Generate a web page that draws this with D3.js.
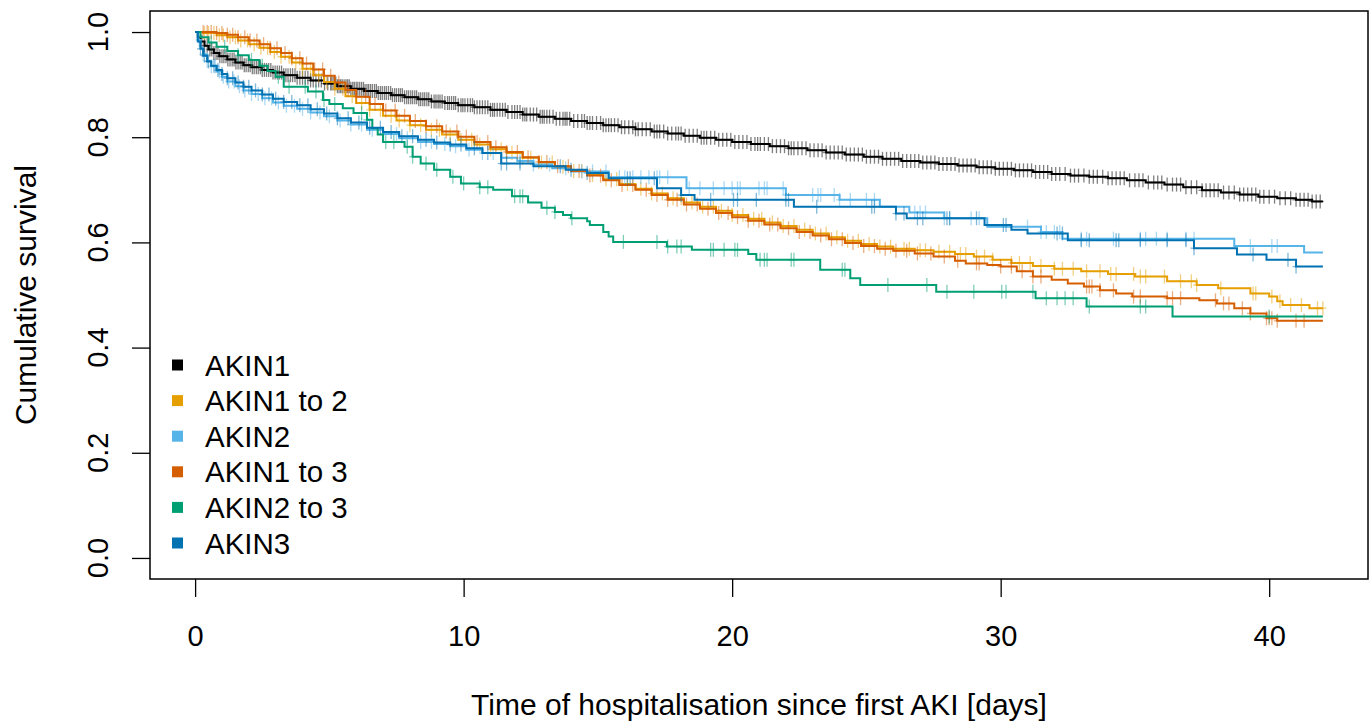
<!DOCTYPE html>
<html><head><meta charset="utf-8">
<script src="https://cdn.jsdelivr.net/npm/d3@7"></script>
<style>body{margin:0;background:#fff}svg{display:block}text{font-family:"Liberation Sans",Arial,Helvetica,sans-serif;fill:#000}</style>
</head><body><svg id="c" width="1372" height="723"></svg>
<script>
const categories = ["AKIN1","AKIN1 to 2","AKIN2","AKIN1 to 3","AKIN2 to 3","AKIN3"];
const colors = ["#000000","#E69F00","#56B4E9","#D55E00","#009E73","#0072B2"];
const followUp = 42;
const xTicks = [0,10,20,30,40];
const yTicks = [0,0.2,0.4,0.6,0.8,1.0];
const yTickLabels = ["0.0","0.2","0.4","0.6","0.8","1.0"];
const xTitle = "Time of hospitalisation since first AKI [days]";
const yTitle = "Cumulative survival";

const akin1T = [0,0.1,0.2,0.35,0.5,0.7,0.9,1.2,1.5,1.8,2.1,2.5,2.9,3.3,3.8,4.3,4.8,5.3,5.8,6.3,6.8,7.3,7.8,8.3,8.8,9.3,9.8,10.4,11.0,11.6,12.2,12.8,13.4,14.0,14.6,15.2,15.8,16.4,17.0,17.6,18.2,18.8,19.4,20.0,20.7,21.4,22.1,22.8,23.5,24.2,24.9,25.6,26.3,27.0,27.7,28.4,29.1,29.8,30.5,31.2,31.9,32.6,33.3,34.0,34.7,35.4,36.1,36.8,37.5,38.2,38.9,39.6,40.3,41.0,41.6];
const akin1S = [1,0.99,0.982,0.974,0.967,0.96,0.954,0.948,0.942,0.937,0.933,0.928,0.923,0.918,0.913,0.908,0.902,0.897,0.892,0.888,0.884,0.88,0.876,0.872,0.868,0.865,0.861,0.857,0.852,0.848,0.843,0.839,0.835,0.831,0.827,0.823,0.819,0.815,0.811,0.807,0.803,0.799,0.795,0.791,0.787,0.783,0.779,0.775,0.771,0.767,0.763,0.759,0.755,0.752,0.749,0.746,0.743,0.74,0.737,0.734,0.73,0.727,0.725,0.722,0.718,0.714,0.71,0.705,0.699,0.695,0.691,0.687,0.684,0.681,0.678];
const akin1C = [0.25,0.35,0.45,0.55,0.62,0.7,0.78,0.85,0.92,1.0,1.07,1.15,1.22,1.3,1.38,1.45,1.52,1.6,1.68,1.75,1.83,1.9,1.98,2.05,2.13,2.2,2.28,2.35,2.43,2.5,2.58,2.66,2.74,2.82,2.9,2.98,3.06,3.14,3.22,3.3,3.38,3.46,3.55,3.63,3.72,3.8,3.9,4.0,4.1,4.2,4.3,4.4,4.5,4.6,4.7,4.82,4.94,5.05,5.17,5.3,5.42,5.55,5.68,5.8,5.93,6.06,6.2,6.33,6.46,6.6,6.75,6.9,7.05,7.2,7.35,7.5,7.65,7.8,7.95,8.1,8.25,8.4,8.55,8.7,8.9,9.05,9.2,9.4,9.55,9.7,9.9,10.05,10.25,10.4,10.6,10.8,11.0,11.15,11.35,11.55,11.8,12.0,12.2,12.35,12.6,12.85,13.0,13.2,13.45,13.7,13.85,14.1,14.4,14.6,14.8,15.1,15.3,15.5,15.75,16.0,16.3,16.5,16.8,17.1,17.3,17.6,17.9,18.1,18.4,18.7,18.95,19.2,19.5,19.8,20.1,20.4,20.7,20.95,21.2,21.5,21.8,22.1,22.3,22.6,22.9,23.2,23.5,23.8,24.1,24.4,24.7,25.0,25.3,25.6,25.9,26.2,26.5,26.8,27.1,27.4,27.7,28.0,28.3,28.6,28.9,29.2,29.5,29.8,30.1,30.4,30.7,31.0,31.3,31.6,31.9,32.2,32.6,32.9,33.3,33.6,34.0,34.3,34.6,35.0,35.3,35.7,36.0,36.4,36.7,37.1,37.5,37.8,38.1,38.5,38.9,39.2,39.5,39.8,40.2,40.6,41.0,41.3,41.6,41.9,
  5.1,5.24,5.36,5.48,5.62,5.74,5.87,6.0,6.13,6.27,6.4,6.53,6.68,6.82,6.97,7.12,7.28,7.43,7.58,7.72,7.88,8.03,8.18,8.33,8.48,8.63,8.8,8.97,9.12,9.3,9.47,9.63,9.8,9.97,10.15,10.33,10.5,10.7,10.9,11.08,11.25,11.45,11.65,11.9,12.1,12.28,12.48,12.72,12.93,13.1,13.33,13.58,13.78,13.95,14.25,14.5,14.7,14.95,15.2,15.4,15.62,15.88,16.15,16.4,16.65,16.95,17.2,17.45,17.75,18.0,18.25,18.55,18.85,19.05,19.35,19.65,19.95,20.25,20.55,20.85,21.05,21.35,21.65,21.95,22.2,22.45,22.75,23.05,23.35,23.65,23.95,24.25,24.55,24.85,25.15,25.45,25.75,26.05,26.35,26.65,26.95,27.25,27.55,27.85,28.15,28.45,28.75,29.05,29.35,29.65,29.95,30.25,30.55,30.85,31.15,31.45,31.75,32.05,32.4,32.75,33.1,33.45,33.8,34.15,34.45,34.8,35.15,35.5,35.85,36.2,36.55,36.9,37.3,37.65,37.95,38.3,38.7,39.05,39.35,39.65,40.0,40.4,40.8,41.15,41.45,41.75];

const akin12T = [0,0.3,0.8,1.2,1.6,2.0,2.4,2.8,3.2,3.6,4.0,4.4,4.8,5.2,5.6,6.0,6.5,7.0,7.5,8.0,8.6,9.2,9.8,10.4,11.0,11.6,12.2,12.8,13.4,14.0,14.6,15.2,15.8,16.4,17.0,17.6,18.2,18.8,19.4,20.0,20.6,21.2,21.8,22.4,23.0,23.6,24.2,24.8,25.4,26.0,26.8,27.5,28.3,29.0,29.7,30.4,31.2,32.0,33.0,34.0,35.0,36.2,37.3,38.1,39.3,40.0,40.3,40.5,41.5];
const akin12S = [1,0.998,0.994,0.99,0.984,0.977,0.97,0.962,0.953,0.942,0.93,0.918,0.905,0.892,0.878,0.865,0.852,0.841,0.832,0.823,0.814,0.805,0.795,0.786,0.777,0.77,0.761,0.752,0.744,0.736,0.728,0.72,0.711,0.702,0.693,0.684,0.676,0.668,0.66,0.652,0.645,0.638,0.631,0.624,0.617,0.61,0.603,0.597,0.592,0.588,0.585,0.582,0.578,0.573,0.567,0.561,0.555,0.55,0.545,0.54,0.535,0.526,0.519,0.513,0.503,0.497,0.488,0.481,0.475];
const akin12C = [0.35,0.5,0.7,0.9,1.05,1.3,1.5,1.7,1.95,2.2,2.45,2.7,2.95,3.2,3.5,3.75,4.0,4.3,4.6,4.9,5.2,5.5,5.85,6.2,6.5,6.9,7.3,7.6,8.0,8.4,8.8,9.1,9.5,9.9,10.3,10.6,11.0,11.4,11.8,12.2,12.5,12.9,13.3,13.7,14.1,14.4,14.8,15.3,15.7,16.1,16.6,17.0,17.4,17.8,18.1,18.5,18.9,19.3,19.6,20.0,20.4,20.8,21.1,21.5,21.9,22.3,22.7,23.1,23.5,23.9,24.3,24.7,25.1,25.5,25.9,26.4,26.6,27.0,27.2,27.7,28.1,28.5,28.7,29.1,29.4,29.7,30.4,30.7,31.1,31.5,32.0,32.3,32.7,33.2,33.7,34.1,34.3,34.95,35.2,35.4,36.1,36.7,37.1,37.3,38.2,39.4,39.5,40.1,40.4,40.8,41.2,41.8,42.0];

const akin2T = [0,0.1,0.2,0.3,0.45,0.6,0.8,1.0,1.2,1.5,1.8,2.1,2.5,2.9,3.3,3.8,4.3,4.8,5.3,5.8,6.4,7.0,7.6,8.3,8.9,9.5,10.1,10.7,11.4,12.0,12.6,13.3,14.0,15.4,18.3,22.0,24.0,25.5,26.6,27.9,29.5,31.5,32.3,38.7,41.3];
const akin2S = [1,0.985,0.97,0.958,0.945,0.935,0.925,0.915,0.906,0.897,0.889,0.882,0.874,0.866,0.86,0.854,0.847,0.84,0.832,0.824,0.814,0.806,0.798,0.791,0.787,0.783,0.776,0.77,0.761,0.755,0.748,0.741,0.735,0.724,0.703,0.69,0.681,0.668,0.657,0.646,0.63,0.62,0.607,0.593,0.581];
const akin2C = [0.15,0.3,0.45,0.6,0.75,0.9,1.05,1.25,1.45,1.65,1.85,2.1,2.35,2.6,2.85,3.1,3.4,3.7,4.0,4.3,4.65,5.0,5.4,5.8,6.2,6.6,7.0,7.5,7.9,8.4,8.8,9.3,9.7,10.2,10.7,11.1,11.6,12.1,12.6,13.2,13.8,14.4,14.8,15.3,15.8,16.0,16.3,16.6,16.9,17.2,17.3,17.6,18.4,18.8,19.3,19.7,20.0,20.2,20.3,21.0,21.2,21.3,21.9,22.0,23.0,23.2,23.3,23.8,24.0,24.4,25.0,25.3,26.8,27.0,27.2,27.9,28.1,28.9,29.2,31.0,31.5,31.7,32.0,32.2,33.0,33.2,34.2,35.2,35.4,35.8,36.2,36.9,37.2,39.3,40.1,40.3];

const akin13T = [0,0.3,0.8,1.2,1.6,2.0,2.4,2.8,3.2,3.6,4.0,4.4,4.8,5.2,5.6,6.0,6.5,7.0,7.5,8.0,8.6,9.2,9.8,10.4,11.0,11.6,12.2,12.8,13.4,14.0,14.6,15.2,15.8,16.4,17.0,17.6,18.2,18.8,19.4,20.0,20.6,21.2,21.8,22.4,23.0,23.6,24.2,24.8,25.4,26.0,26.8,27.5,28.3,28.7,29.5,30.0,30.6,31.2,31.9,32.5,33.1,33.7,34.3,34.9,36.2,37.4,38.05,38.7,39.3,39.9,40.3];
const akin13S = [1,1,0.998,0.995,0.99,0.984,0.977,0.969,0.96,0.95,0.94,0.929,0.917,0.904,0.89,0.877,0.863,0.851,0.841,0.831,0.821,0.811,0.801,0.791,0.781,0.772,0.762,0.753,0.745,0.736,0.727,0.718,0.709,0.7,0.69,0.681,0.672,0.664,0.656,0.648,0.641,0.634,0.627,0.62,0.613,0.606,0.599,0.593,0.588,0.584,0.579,0.573,0.565,0.56,0.557,0.554,0.545,0.535,0.529,0.522,0.516,0.509,0.503,0.497,0.494,0.49,0.484,0.475,0.465,0.456,0.451];
const akin13C = [0.3,0.45,0.6,0.8,1.0,1.2,1.4,1.6,1.85,2.05,2.3,2.55,2.8,3.05,3.35,3.6,3.9,4.15,4.45,4.75,5.05,5.35,5.7,6.0,6.35,6.7,7.1,7.45,7.8,8.2,8.6,9.0,9.35,9.75,10.1,10.5,10.9,11.2,11.6,12.0,12.4,12.8,13.1,13.5,13.9,14.3,14.7,15.1,15.5,15.9,16.3,16.8,17.2,17.6,17.95,18.3,18.7,19.1,19.5,19.85,20.2,20.6,21.0,21.4,21.7,22.1,22.5,22.9,23.3,23.7,24.1,24.5,24.9,25.3,25.7,26.1,26.5,26.9,27.4,27.9,28.4,29.1,29.2,30.0,30.4,30.8,31.2,31.5,33.2,33.3,33.4,33.7,34.2,34.95,35.2,36.2,36.4,36.7,38.0,38.3,38.5,39.0,39.3,39.9,40.0,40.1,40.3,41.0,41.3];

const akin23T = [0,0.2,0.5,0.8,1.2,1.6,2.0,2.4,2.7,3.0,3.3,4.2,4.76,5.0,5.5,5.9,6.4,6.6,6.8,7.0,7.8,8.1,8.4,8.9,9.5,9.9,10.6,11.1,11.8,12.4,12.9,13.4,13.7,14.0,14.6,14.7,15.2,15.4,15.57,17.57,18.5,20.6,20.9,23.28,24.4,24.77,27.6,31.3,33.2,36.4];
const akin23S = [1,0.99,0.98,0.972,0.964,0.956,0.947,0.936,0.926,0.915,0.896,0.887,0.871,0.863,0.855,0.846,0.833,0.817,0.805,0.791,0.782,0.763,0.75,0.738,0.725,0.712,0.705,0.7,0.688,0.676,0.666,0.658,0.652,0.646,0.64,0.633,0.62,0.611,0.601,0.592,0.586,0.578,0.567,0.548,0.532,0.519,0.506,0.494,0.478,0.459];
const akin23C = [0.6,1.1,1.6,2.1,2.5,3.1,3.5,4.1,4.5,4.8,5.2,6.2,6.4,7.1,7.4,7.9,8.1,8.6,9.0,9.6,10.0,10.6,10.9,11.9,12.1,12.2,13.1,13.4,14.03,15.95,17.2,17.6,17.94,18.1,19.2,19.3,19.7,20.1,20.2,21.04,21.2,21.3,22.2,22.3,24.1,24.2,25.8,27.25,28.0,29.0,30.04,30.2,31.2,31.7,32.1,32.4,32.7,33.3,35.2,35.4,40.0];

const akin3T = [0,0.1,0.2,0.3,0.45,0.6,0.8,1.0,1.2,1.5,1.8,2.1,2.5,2.9,3.3,3.8,4.3,4.8,5.3,5.8,6.4,7.0,7.6,8.3,8.9,9.5,10.1,10.7,11.4,12.6,13.8,14.6,15.4,17.2,18.1,18.6,22.3,26.1,26.5,29.4,30.4,31.0,32.5,37.2,38.8,39.9,41.0];
const akin3S = [1,0.982,0.968,0.955,0.944,0.936,0.928,0.92,0.912,0.904,0.896,0.889,0.881,0.873,0.867,0.861,0.853,0.845,0.836,0.828,0.818,0.81,0.802,0.795,0.79,0.786,0.779,0.77,0.75,0.745,0.738,0.732,0.722,0.703,0.69,0.681,0.668,0.655,0.646,0.633,0.624,0.617,0.604,0.589,0.577,0.567,0.554];
const akin3C = [0.2,0.35,0.5,0.7,0.85,1.0,1.2,1.4,1.6,1.8,2.0,2.25,2.5,2.75,3.0,3.3,3.6,3.9,4.2,4.55,4.9,5.3,5.7,6.1,6.5,6.9,7.3,7.7,8.1,8.6,9.0,9.5,9.9,10.4,10.9,11.4,11.6,12.1,13.6,14.0,14.6,16.1,16.2,17.1,18.1,19.2,20.05,20.2,20.9,22.0,22.1,23.15,25.2,25.3,26.1,26.4,26.9,27.1,28.0,28.1,29.1,30.1,30.2,32.1,32.3,33.0,33.3,34.3,34.4,35.2,36.2,36.9,37.2,39.4,40.7,41.0];

const timesList = [akin1T, akin12T, akin2T, akin13T, akin23T, akin3T];
const survList  = [akin1S, akin12S, akin2S, akin13S, akin23S, akin3S];
const censList  = [akin1C, akin12C, akin2C, akin13C, akin23C, akin3C];

const svg = d3.select("#c");
const x = d3.scaleLinear().domain([-1.68, 43.68]).range([150, 1368]);
const y = d3.scaleLinear().domain([-0.04, 1.04]).range([579, 11]);

const plot = svg.append("g");
const line = d3.line().curve(d3.curveStepAfter).x(d => x(d.t)).y(d => y(d.s));

categories.forEach((name, i) => {
  const T = timesList[i], S = survList[i];
  const pts = T.map((t, j) => ({t, s: S[j]}));
  pts.push({t: followUp, s: S[S.length - 1]});
  const bis = d3.bisector(d => d).right;
  const survAt = t => S[Math.max(0, bis(T, t) - 1)];
  const g = plot.append("g").attr("stroke", colors[i]).attr("stroke-width", 1.3).attr("stroke-opacity", 0.5);
  censList[i].forEach(c => {
    const cx = x(c), cy = y(survAt(c));
    g.append("line").attr("x1", cx).attr("x2", cx).attr("y1", cy - 7).attr("y2", cy + 7);
    g.append("line").attr("x1", cx - 3.5).attr("x2", cx + 3.5).attr("y1", cy).attr("y2", cy);
  });
  plot.append("path").datum(pts)
    .attr("d", line).attr("fill", "none")
    .attr("stroke", colors[i]).attr("stroke-width", 2);
});

// box
svg.append("rect").attr("x", 150).attr("y", 11).attr("width", 1218).attr("height", 568)
  .attr("fill", "none").attr("stroke", "#000").attr("stroke-width", 1.5);

// x axis
const xa = svg.append("g").attr("transform", "translate(0,579)")
  .call(d3.axisBottom(x).tickValues(xTicks).tickSize(18).tickFormat(d3.format("d")));
xa.select(".domain").remove();
xa.selectAll(".tick line").attr("stroke", "#000").attr("stroke-width", 1.3);
xa.selectAll(".tick text").attr("y", 67).attr("dy", 0).attr("font-size", 29)
  .style("font-family", '"Liberation Sans", Arial, sans-serif').attr("fill", "#000");

// y axis
const ya = svg.append("g").attr("transform", "translate(150,0)")
  .call(d3.axisLeft(y).tickValues(yTicks).tickSize(18).tickFormat(""));
ya.select(".domain").remove();
ya.selectAll(".tick line").attr("stroke", "#000").attr("stroke-width", 1.3);
yTicks.forEach((v, i) => {
  svg.append("text").attr("x", 108).attr("y", y(v))
    .attr("transform", `rotate(-90,108,${y(v)})`)
    .attr("text-anchor", "middle").attr("font-size", 29).text(yTickLabels[i]);
});

// titles
svg.append("text").attr("x", (x(-1.68) + x(43.68)) / 2).attr("y", 715)
  .attr("text-anchor", "middle").attr("font-size", 30).text(xTitle);
svg.append("text").attr("x", 36).attr("y", 295)
  .attr("transform", "rotate(-90,36,295)")
  .attr("text-anchor", "middle").attr("font-size", 30).text(yTitle);

// legend
const leg = svg.append("g");
categories.forEach((name, i) => {
  const cy = 365 + i * 35.6;
  leg.append("rect").attr("x", 172).attr("y", cy - 5.5).attr("width", 11).attr("height", 11).attr("fill", colors[i]);
  leg.append("text").attr("x", 205).attr("y", cy + 10.5).attr("font-size", 29.5).text(name);
});
</script></body></html>
